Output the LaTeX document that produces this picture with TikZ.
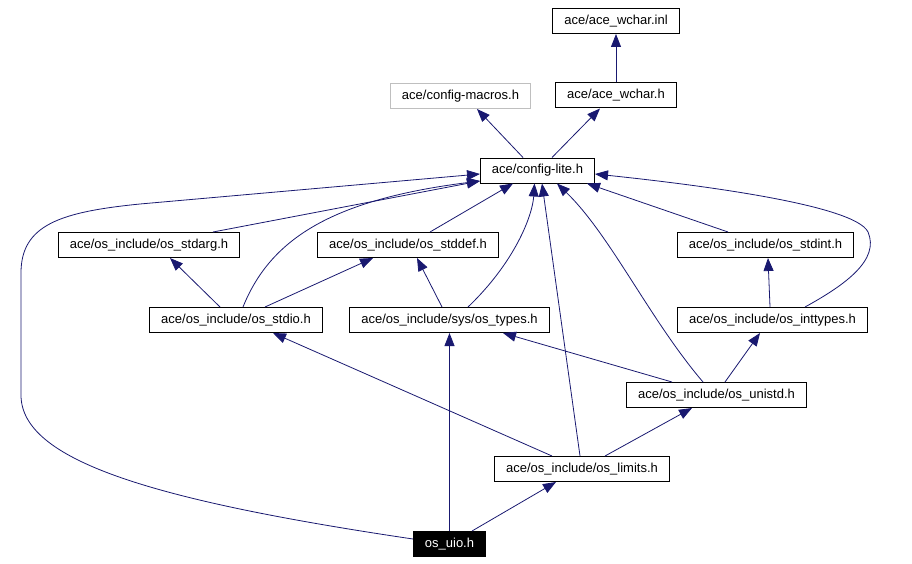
\documentclass[tikz,border=0pt]{standalone}
\usepackage{fontspec}
\setmainfont{Liberation Sans}
\usetikzlibrary{arrows.meta,calc}
\definecolor{edgeblue}{HTML}{191970}

\begin{document}
\begin{tikzpicture}[x=0.75pt, y=-0.75pt, font=\fontsize{9.75}{11}\selectfont,
    file/.style={draw=black, fill=white, line width=0.75pt, inner xsep=8.6pt,
      inner ysep=0pt, minimum height=18.75pt},
    inc/.style={draw=edgeblue, line width=0.6pt,
      -{Triangle[length=9.75pt, width=7.5pt]}, edgeblue}]
  \useasboundingbox (0,0) rectangle (912,563);
  \node[file] (inl) at (616,21) {ace/ace\_wchar.inl};
  \node[file, draw=black!25] (macros) at (460.5,96) {ace/config-macros.h};
  \node[file] (wchar) at (616,95.5) {ace/ace\_wchar.h};
  \node[file] (cfg) at (537.5,170.5) {ace/config-lite.h};
  \node[file] (stdarg) at (149,245) {ace/os\_include/os\_stdarg.h};
  \node[file] (stddef) at (408,245) {ace/os\_include/os\_stddef.h};
  \node[file] (stdint) at (765.5,245) {ace/os\_include/os\_stdint.h};
  \node[file] (stdio) at (236,320) {ace/os\_include/os\_stdio.h};
  \node[file] (types) at (449.5,320) {ace/os\_include/sys/os\_types.h};
  \node[file] (inttypes) at (772.5,320) {ace/os\_include/os\_inttypes.h};
  \node[file] (unistd) at (716.5,395) {ace/os\_include/os\_unistd.h};
  \node[file] (limits) at (582,469) {ace/os\_include/os\_limits.h};
  \node[file, fill=black, text=white] (uio) at (449.5,544) {os\_uio.h};

  \draw[inc] (wchar.north) -- (inl.south);
  \draw[inc] ($(cfg.north)+(-14.5,0)$) -- ($(macros.south)+(16.5,0)$);
  \draw[inc] ($(cfg.north)+(14.5,0)$) -- ($(wchar.south)+(-16,0)$);
  \draw[inc] ($(uio.west)+(0,-5)$) .. controls (150,500) and (21,460) .. (21,395)
    -- (21,273) .. controls (21,225) and (60,212) .. (140,204)
    -- ($(cfg.west)+(0,3.5)$);
  \draw[inc] ($(stdarg.north)+(64,0)$) -- ($(cfg.west)+(0,10.5)$);
  \draw[inc] ($(stdio.north)+(7,0)$) .. controls +(27,-67) and +(-150,19)
    .. ($(cfg.west)+(0,10.5)$);
  \draw[inc] ($(stdio.north)+(-16,0)$) -- ($(stdarg.south)+(21,0)$);
  \draw[inc] ($(stdio.north)+(29,0)$) -- ($(stddef.south)+(-35,0)$);
  \draw[inc] ($(stddef.north)+(22,0)$) -- ($(cfg.south)+(-24.5,0)$);
  \draw[inc] ($(types.north)+(-7.5,0)$) -- ($(stddef.south)+(9,0)$);
  \draw[inc] ($(types.north)+(18.5,0)$) .. controls +(47,-45) and +(-2,32)
    .. ($(cfg.south)+(-3,0)$);
  \draw[inc] ($(limits.north)+(-2,0)$) -- ($(cfg.south)+(4.5,0)$);
  \draw[inc] ($(unistd.north)+(-13.5,0)$) .. controls +(-53,-62) and +(53,51)
    .. ($(cfg.south)+(19.5,0)$);
  \draw[inc] ($(stdint.north)+(-37.5,0)$) -- ($(cfg.south)+(49.5,0)$);
  \draw[inc] ($(inttypes.north)+(32.5,0)$) .. controls +(40,-22) and (880,260)
    .. (868,232) .. controls (855,205) and (700,185) .. ($(cfg.east)+(0,3.5)$);
  \draw[inc] ($(inttypes.north)+(-2.5,0)$) -- ($(stdint.south)+(2.5,0)$);
  \draw[inc] ($(unistd.north)+(-44.5,0)$) -- ($(types.south)+(53.5,0)$);
  \draw[inc] ($(unistd.north)+(8.5,0)$) -- ($(inttypes.south)+(-12.5,0)$);
  \draw[inc] ($(limits.north)+(-30,0)$) -- ($(stdio.south)+(37,0)$);
  \draw[inc] ($(limits.north)+(23,0)$) -- ($(unistd.south)+(-24.5,0)$);
  \draw[inc] (uio.north) -- (types.south);
  \draw[inc] ($(uio.north)+(22.5,0)$) -- ($(limits.south)+(-26,0)$);
\end{tikzpicture}
\end{document}
